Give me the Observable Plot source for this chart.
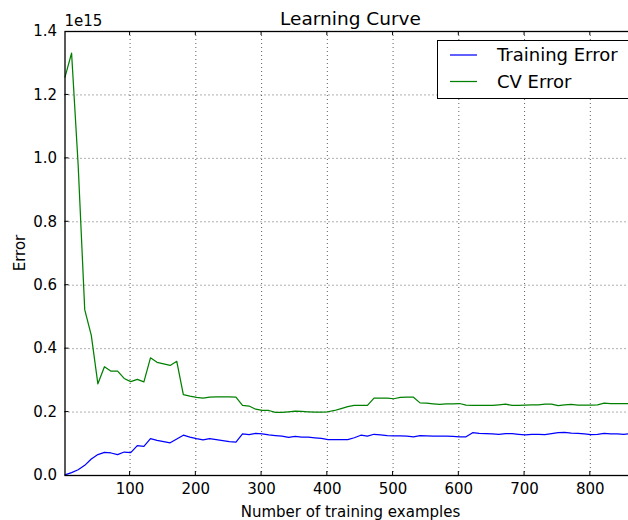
<!DOCTYPE html>
<html>
<head>
<meta charset="utf-8">
<script src="https://cdn.jsdelivr.net/npm/d3@7"></script>
<script src="https://cdn.jsdelivr.net/npm/@observablehq/plot@0.6"></script>
<style>
  html, body { margin: 0; padding: 0; background: #fff; overflow: hidden; }
  #chart { position: relative; width: 628px; height: 520px; overflow: hidden; }
  #chart svg { display: block; max-width: none !important; width: 638px; height: 520px; }
</style>
</head>
<body>
<div id="chart"></div>
<script>
// Training-set sizes (number of training examples)
const sizes = [1, 11, 21, 31, 41, 51, 61, 71, 81, 91, 101, 111, 121, 131, 141, 151, 161, 171, 181, 191,
  201, 211, 221, 231, 241, 251, 261, 271, 281, 291, 301, 311, 321, 331, 341, 351, 361, 371, 381, 391,
  401, 411, 421, 431, 441, 451, 461, 471, 481, 491, 501, 511, 521, 531, 541, 551, 561, 571, 581, 591,
  601, 611, 621, 631, 641, 651, 661, 671, 681, 691, 701, 711, 721, 731, 741, 751, 761, 771, 781, 791,
  801, 811, 821, 831, 841, 851, 861, 871];

// Errors in units of 1e15
const trainingError = [0.002, 0.009, 0.018, 0.032, 0.052, 0.066, 0.073, 0.071, 0.066, 0.074,
  0.072, 0.094, 0.092, 0.116, 0.111, 0.107, 0.103, 0.115, 0.127, 0.121,
  0.116, 0.112, 0.116, 0.113, 0.110, 0.107, 0.105, 0.131, 0.129, 0.133,
  0.131, 0.128, 0.126, 0.124, 0.120, 0.123, 0.121, 0.121, 0.119, 0.117,
  0.113, 0.113, 0.113, 0.113, 0.119, 0.127, 0.124, 0.130, 0.128, 0.126,
  0.125, 0.125, 0.124, 0.122, 0.126, 0.125, 0.124, 0.124, 0.124, 0.123,
  0.122, 0.122, 0.135, 0.133, 0.132, 0.131, 0.130, 0.132, 0.132, 0.130,
  0.128, 0.130, 0.130, 0.129, 0.132, 0.135, 0.136, 0.134, 0.133, 0.131,
  0.129, 0.130, 0.133, 0.131, 0.131, 0.130, 0.132, 0.132];

const cvError = [1.256, 1.332, 0.980, 0.523, 0.442, 0.289, 0.343, 0.329, 0.329, 0.306,
  0.296, 0.303, 0.295, 0.371, 0.357, 0.352, 0.347, 0.360, 0.255, 0.250,
  0.246, 0.244, 0.247, 0.248, 0.248, 0.248, 0.247, 0.221, 0.219, 0.209,
  0.205, 0.205, 0.199, 0.199, 0.201, 0.203, 0.202, 0.201, 0.200, 0.200,
  0.201, 0.205, 0.211, 0.217, 0.221, 0.221, 0.221, 0.244, 0.244, 0.244,
  0.242, 0.246, 0.247, 0.247, 0.229, 0.228, 0.226, 0.224, 0.226, 0.226,
  0.227, 0.222, 0.221, 0.221, 0.221, 0.221, 0.223, 0.225, 0.221, 0.221,
  0.222, 0.223, 0.223, 0.225, 0.225, 0.220, 0.223, 0.224, 0.222, 0.222,
  0.222, 0.223, 0.228, 0.227, 0.227, 0.227, 0.227, 0.225];

const seriesNames = ["Training Error", "CV Error"];
const seriesColors = ["#0000ff", "#008000"];

const xTicks = [100, 200, 300, 400, 500, 600, 700, 800];
const yTicks = [0.0, 0.2, 0.4, 0.6, 0.8, 1.0, 1.2, 1.4];
const yGrid = [0.2, 0.4, 0.6, 0.8, 1.0, 1.2];

const train = sizes.map((n, i) => ({n, v: trainingError[i]}));
const cv = sizes.map((n, i) => ({n, v: cvError[i]}));

const font = "DejaVu Sans";
const gridStyle = {stroke: "#000", strokeOpacity: 0.7, strokeWidth: 0.9, strokeDasharray: "1,3"};

const plot = Plot.plot({
  width: 638,
  height: 520,
  marginLeft: 64.5,
  marginRight: 1.5,
  marginTop: 31,
  marginBottom: 45,
  style: {fontFamily: font, fontSize: "15px", color: "#000", background: "#fff"},
  x: {domain: [1, 871], ticks: xTicks, tickSize: 0, tickPadding: 8, tickFormat: d => String(d), label: null},
  y: {domain: [0, 1.4], ticks: yTicks, tickSize: 0, tickPadding: 8, tickFormat: d => d.toFixed(1), label: null},
  marks: [
    Plot.ruleX(xTicks, {x: d => d, ...gridStyle}),
    Plot.ruleY(yGrid, {y: d => d, ...gridStyle}),
    Plot.line(train, {x: "n", y: "v", stroke: seriesColors[0], strokeWidth: 1.25}),
    Plot.line(cv, {x: "n", y: "v", stroke: seriesColors[1], strokeWidth: 1.25}),
    Plot.frame({stroke: "#000", strokeWidth: 1.3})
  ]
});

document.getElementById("chart").appendChild(plot);

// Inward tick marks, titles and legend drawn with the plot's own scales
const sx = plot.scale("x"), sy = plot.scale("y");
const svg = d3.select(plot);
const [x0, x1] = sx.range;
const [yb, yt] = sy.range;
const cx = (x0 + x1) / 2;
const ticks = svg.append("g").attr("stroke", "#000").attr("stroke-width", 1);
for (const t of xTicks) {
  const px = sx.apply(t);
  ticks.append("line").attr("x1", px).attr("x2", px).attr("y1", yb).attr("y2", yb - 4);
  ticks.append("line").attr("x1", px).attr("x2", px).attr("y1", yt).attr("y2", yt + 4);
}
for (const t of yGrid) {
  const py = sy.apply(t);
  ticks.append("line").attr("x1", x0).attr("x2", x0 + 4).attr("y1", py).attr("y2", py);
  ticks.append("line").attr("x1", x1).attr("x2", x1 - 4).attr("y1", py).attr("y2", py);
}

const txt = svg.append("g").attr("font-family", font).attr("fill", "#000");
txt.append("text").attr("x", cx).attr("y", 25).attr("text-anchor", "middle")
  .attr("font-size", 18.5).text("Learning Curve");
txt.append("text").attr("x", x0).attr("y", 26).attr("text-anchor", "start")
  .attr("font-size", 15).text("1e15");
txt.append("text").attr("x", cx).attr("y", 517).attr("text-anchor", "middle")
  .attr("font-size", 15).text("Number of training examples");
txt.append("text").attr("transform", `translate(25,${(yb + yt) / 2}) rotate(-90)`)
  .attr("text-anchor", "middle").attr("font-size", 15).text("Error");

const lg = svg.append("g").attr("font-family", font).attr("text-anchor", "start");
lg.append("rect").attr("x", 437.5).attr("y", 40.5).attr("width", 192).attr("height", 58)
  .attr("fill", "#fff").attr("stroke", "#000").attr("stroke-width", 1);
seriesNames.forEach((name, i) => {
  const y = 55 + i * 26.5;
  lg.append("line").attr("x1", 450).attr("x2", 477).attr("y1", y).attr("y2", y)
    .attr("stroke", seriesColors[i]).attr("stroke-width", 1.25);
  lg.append("text").attr("x", 497).attr("y", y).attr("dy", "0.35em")
    .attr("font-size", 18).attr("fill", "#000").text(name);
});
</script>
</body>
</html>
